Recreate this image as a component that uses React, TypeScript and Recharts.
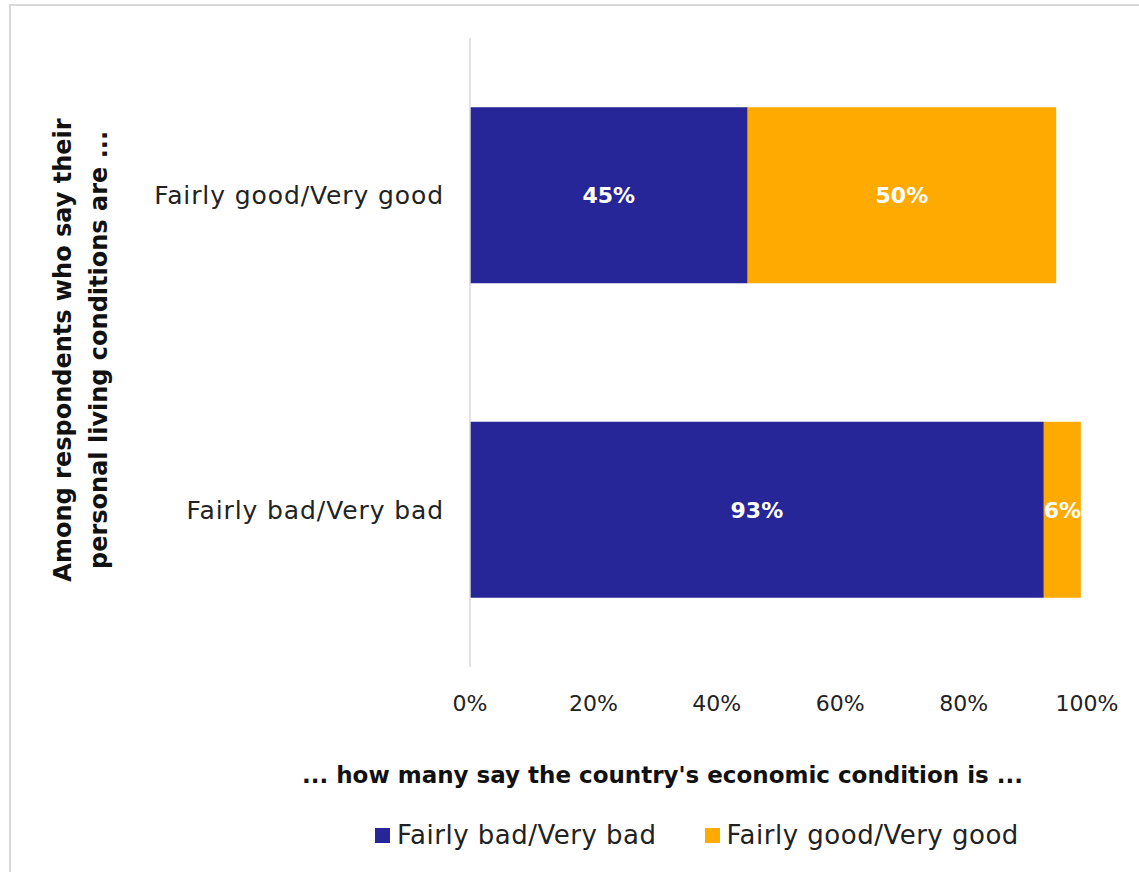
import { BarChart, Bar, XAxis, YAxis, LabelList, Label } from "recharts"

const categories = ["Fairly good/Very good", "Fairly bad/Very bad"]
const badValues = [45, 93]
const goodValues = [50, 6]
const xTicks = [0, 20, 40, 60, 80, 100]

const BLUE = "#262699"
const ORANGE = "#FFAA00"
const FONT = "'DejaVu Sans', sans-serif"

const data = categories.map((name, i) => ({
  name,
  bad: badValues[i],
  good: goodValues[i],
}))

// two-line rotated title for the category axis
function YTitle() {
  const cx = 80
  const cy = 350
  return (
    <text
      transform={`translate(${cx}, ${cy}) rotate(-90)`}
      textAnchor="middle"
      fontFamily={FONT}
      fontWeight="bold"
      fontSize={24}
      fill="#111"
    >
      <tspan x={0} dy={-9}>Among respondents who say their</tspan>
      <tspan x={0} dy={36}>personal living conditions are ...</tspan>
    </text>
  )
}

export default function App() {
  return (
    <div
      style={{
        position: "fixed",
        left: 0,
        top: 0,
        width: 1139,
        height: 872,
        overflow: "hidden",
        background: "#fff",
        fontFamily: FONT,
      }}
    >
      <div
        style={{
          position: "absolute",
          left: 9,
          top: 4,
          width: 1160,
          height: 900,
          border: "2px solid #d9d9d9",
        }}
      />
      <BarChart
        layout="vertical"
        width={1139}
        height={872}
        data={data}
        margin={{ top: 38, right: 52, bottom: 145, left: 0 }}
        barCategoryGap="22%"
        style={{ position: "absolute", left: 0, top: 0 }}
      >
        <XAxis
          type="number"
          domain={[0, 100]}
          ticks={xTicks}
          tickFormatter={(v) => `${v}%`}
          axisLine={false}
          tickLine={false}
          tickSize={0}
          tickMargin={28}
          height={60}
          tick={{ fontSize: 22, fill: "#222", fontFamily: FONT }}
        >
          <Label
            value="... how many say the country's economic condition is ..."
            position="bottom"
            offset={40}
            dx={-116}
            style={{ fontSize: 23, fontWeight: "bold", fill: "#111", fontFamily: FONT }}
          />
        </XAxis>
        <YAxis
          type="category"
          dataKey="name"
          width={470}
          axisLine={{ stroke: "#d9d9d9", strokeWidth: 1.5 }}
          tickLine={false}
          tickSize={0}
          tickMargin={26}
          tick={{ fontSize: 25, fill: "#222", fontFamily: FONT, letterSpacing: 0.9 }}
        >
          <Label content={<YTitle />} />
        </YAxis>
        <Bar dataKey="bad" stackId="a" fill={BLUE} isAnimationActive={false}>
          <LabelList
            dataKey="bad"
            position="center"
            formatter={(v: number) => `${v}%`}
            style={{ fill: "#fff", fontWeight: "bold", fontSize: 22, fontFamily: FONT }}
          />
        </Bar>
        <Bar dataKey="good" stackId="a" fill={ORANGE} isAnimationActive={false}>
          <LabelList
            dataKey="good"
            position="center"
            formatter={(v: number) => `${v}%`}
            style={{ fill: "#fff", fontWeight: "bold", fontSize: 22, fontFamily: FONT }}
          />
        </Bar>
      </BarChart>
      <div
        style={{
          position: "absolute",
          top: 820,
          left: 375,
          display: "flex",
          alignItems: "center",
          fontSize: 26,
          letterSpacing: 0.5,
          color: "#222",
        }}
      >
        <span style={{ width: 15, height: 15, background: BLUE, display: "inline-block", marginRight: 7 }} />
        <span>Fairly bad/Very bad</span>
        <span
          style={{
            width: 15,
            height: 15,
            background: ORANGE,
            display: "inline-block",
            marginLeft: 48,
            marginRight: 7,
          }}
        />
        <span>Fairly good/Very good</span>
      </div>
    </div>
  )
}
